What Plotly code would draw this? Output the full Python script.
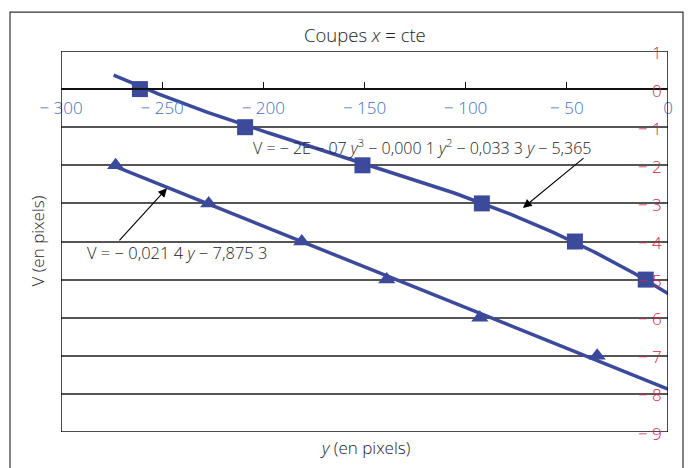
import numpy as np
import plotly.graph_objects as go

# Measured sections (y in pixels, V in pixels)
sq_y = [-261, -209, -151, -92, -46, -11]
sq_v = [0, -1, -2, -3, -4, -5]
tri_y = [-273, -227, -181, -139, -93, -35]
tri_v = [-2, -3, -4, -5, -6, -7]

# Trendline coefficients (highest power first) as printed on the chart
cubic_coef = [-2e-07, -0.0001, -0.0333, -5.365]
linear_coef = [-0.0214, -7.8753]
cubic_span = [-274, 0]
linear_span = [-273, 0]

x_ticks = [-300, -250, -200, -150, -100, -50, 0]
x_ticktext = ["− 300", "− 250", "− 200", "− 150", "− 100", "− 50", "0"]
v_ticks = [1, 0, -1, -2, -3, -4, -5, -6, -7, -8, -9]
v_ticktext = ["1", "0", "− 1", "− 2", "− 3", "− 4", "− 5", "− 6", "− 7", "− 8", "− 9"]

FONT = "Open Sans"
NAVY = "#3c4a9c"
BLUE = "#3d70c4"
RED = "#cc1f4b"
TXT = "#222"

yc = np.linspace(cubic_span[0], cubic_span[1], 200)
yl = np.array(linear_span, dtype=float)

fig = go.Figure()
fig.add_trace(go.Scatter(x=yc, y=np.polyval(cubic_coef, yc), mode="lines",
                         line=dict(color=NAVY, width=3.5), hoverinfo="skip"))
fig.add_trace(go.Scatter(x=yl, y=np.polyval(linear_coef, yl), mode="lines",
                         line=dict(color=NAVY, width=3.5), hoverinfo="skip"))
fig.add_trace(go.Scatter(x=sq_y, y=sq_v, mode="markers",
                         marker=dict(symbol="square", size=16, color=NAVY)))
fig.add_trace(go.Scatter(x=tri_y, y=tri_v, mode="markers",
                         marker=dict(symbol="triangle-up", size=15, color=NAVY)))

# plot frame
fig.add_shape(type="rect", xref="x", yref="y", x0=-300, x1=0, y0=-9, y1=1,
              line=dict(color="#111", width=1.5), layer="above")
# outer chart border
fig.add_shape(type="rect", xref="paper", yref="paper", x0=-0.084, x1=1.0247,
              y0=-0.2, y1=1.102, line=dict(color="#333", width=1.2))

fig.update_layout(
    width=688, height=468,
    margin=dict(l=61, r=20, t=51, b=36),
    paper_bgcolor="white", plot_bgcolor="white",
    showlegend=False,
    font=dict(family=FONT, color=TXT, size=16, weight=300),
    xaxis=dict(range=[-300, 0], anchor="free", position=0.9,
               showline=True, linecolor="#111", linewidth=1.5,
               ticks="inside", ticklen=6, tickcolor="#111", tickwidth=1.2,
               tickvals=x_ticks, ticktext=x_ticktext,
               tickfont=dict(color=BLUE, size=17, family=FONT, weight=300),
               ticklabelstandoff=4,
               showgrid=False, zeroline=False),
    yaxis=dict(range=[-9, 1], tickvals=v_ticks, showticklabels=False,
               showgrid=True, gridcolor="#555", gridwidth=1.5,
               zeroline=False, showline=False, ticks=""),
)

# right-hand V scale labels, sitting just inside the frame
for v, t in zip(v_ticks, v_ticktext):
    fig.add_annotation(text=t, x=0, y=v, xanchor="right", xshift=-4, yshift=-1,
                       showarrow=False,
                       font=dict(size=17, color=RED, family=FONT, weight=300))

fig.add_annotation(text="Coupes <i>x</i> = cte", xref="paper", yref="paper",
                   x=0.5, y=1.0, yshift=17, showarrow=False,
                   font=dict(size=18.5, color=TXT), yanchor="middle")
fig.add_annotation(text="<i>y</i> (en pixels)", xref="paper", yref="paper",
                   x=0.5, y=0, yshift=-15, showarrow=False,
                   font=dict(size=17, color=TXT), yanchor="middle")
fig.add_annotation(text="V (en pixels)", xref="paper", yref="paper",
                   x=0, xshift=-24, y=0.5, textangle=-90, showarrow=False,
                   xanchor="center", yanchor="middle",
                   font=dict(size=17, color=TXT))

# equation labels
fig.add_annotation(text="V = − 2E − 07 <i>y</i><sup>3</sup> − 0,000 1 <i>y</i><sup>2</sup> − 0,033 3 <i>y</i> − 5,365",
                   x=-121.8, y=-1.52, showarrow=False, font=dict(size=16, color=TXT))
fig.add_annotation(text="V = − 0,021 4 <i>y</i> − 7,875 3",
                   x=-242.7, y=-4.30, showarrow=False, font=dict(size=16.5, color=TXT))

# leader arrows
fig.add_annotation(x=-71.7, y=-3.12, ax=-41, ay=-1.78, axref="x", ayref="y",
                   text="", showarrow=True, arrowhead=2, arrowsize=1.6,
                   arrowwidth=1.1, arrowcolor="#000")
fig.add_annotation(x=-247.6, y=-2.6, ax=-271.8, ay=-4.01, axref="x", ayref="y",
                   text="", showarrow=True, arrowhead=2, arrowsize=1.6,
                   arrowwidth=1.1, arrowcolor="#000")

fig.write_html("out.html")
